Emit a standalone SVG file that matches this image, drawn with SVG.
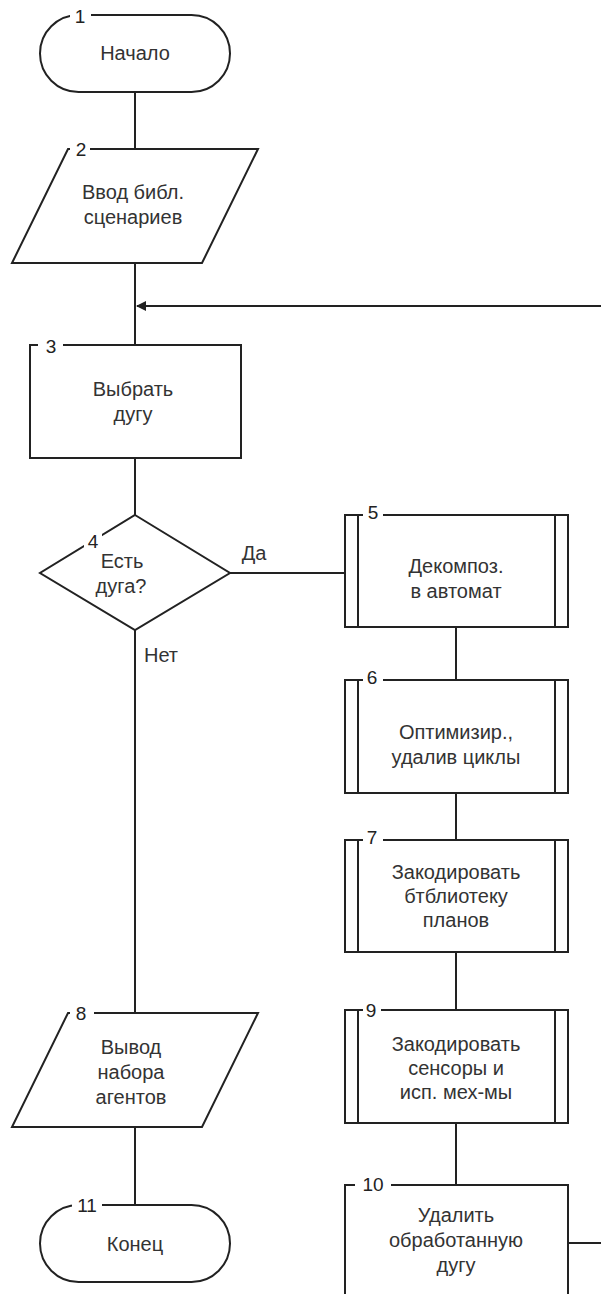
<svg xmlns="http://www.w3.org/2000/svg" width="601" height="1294" viewBox="0 0 601 1294">
  <style>
    .shape { fill: #fff; stroke: #222; stroke-width: 2; }
    .bar { fill: none; stroke: #222; stroke-width: 2; }
    .line { fill: none; stroke: #222; stroke-width: 2; }
    .txt { font-family: "Liberation Sans", Arial, sans-serif; font-size: 20px; fill: #333; text-anchor: middle; }
    .num { font-family: "Liberation Sans", Arial, sans-serif; font-size: 19px; fill: #222; text-anchor: middle; }
    .gap { fill: #fff; stroke: none; }
  </style>
  <defs>
    <marker id="arrow" viewBox="0 0 10 10" refX="9" refY="5" markerWidth="10" markerHeight="10" markerUnits="userSpaceOnUse" orient="auto">
      <path d="M0,0 L10,5 L0,10 z" fill="#222"/>
    </marker>
  </defs>

  <!-- connectors -->
  <g id="connectors">
    <line class="line" x1="135" y1="92" x2="135" y2="149"/>
    <line class="line" x1="135" y1="263" x2="135" y2="345"/>
    <line class="line" x1="601" y1="306" x2="137" y2="306" marker-end="url(#arrow)"/>
    <line class="line" x1="135" y1="458" x2="135" y2="515"/>
    <line class="line" x1="230" y1="573" x2="345" y2="573"/>
    <line class="line" x1="135" y1="630" x2="135" y2="1013"/>
    <line class="line" x1="456" y1="627" x2="456" y2="680"/>
    <line class="line" x1="456" y1="793" x2="456" y2="840"/>
    <line class="line" x1="456" y1="952" x2="456" y2="1010"/>
    <line class="line" x1="456" y1="1123" x2="456" y2="1185"/>
    <line class="line" x1="568" y1="1243" x2="601" y2="1243"/>
    <line class="line" x1="135" y1="1127" x2="135" y2="1205"/>
    <text class="txt" x="254" y="560">Да</text>
    <text class="txt" x="161" y="662">Нет</text>
  </g>

  <!-- 1: start -->
  <g id="n1">
    <rect class="shape" x="40" y="15" width="190" height="77" rx="38.5"/>
    <rect class="gap" x="70" y="10" width="21" height="12"/>
    <text class="num" x="80" y="23">1</text>
    <text class="txt" x="135" y="60">Начало</text>
  </g>

  <!-- 2: input -->
  <g id="n2">
    <polygon class="shape" points="68,149 258,149 202,263 12,263"/>
    <rect class="gap" x="70" y="143" width="20" height="12"/>
    <text class="num" x="81" y="156">2</text>
    <text class="txt" x="133" y="199">Ввод библ.</text>
    <text class="txt" x="133" y="224">сценариев</text>
  </g>

  <!-- 3: process -->
  <g id="n3">
    <rect class="shape" x="30" y="345" width="211" height="113"/>
    <rect class="gap" x="38" y="339" width="25" height="12"/>
    <text class="num" x="51" y="353">3</text>
    <text class="txt" x="133" y="396">Выбрать</text>
    <text class="txt" x="133" y="421">дугу</text>
  </g>

  <!-- 4: decision -->
  <g id="n4">
    <polygon class="shape" points="135,515 230,573 135,630 40,573"/>
    <rect class="gap" x="84" y="533" width="18" height="16"/>
    <text class="num" x="93" y="548">4</text>
    <text class="txt" x="122" y="568">Есть</text>
    <text class="txt" x="121" y="593">дуга?</text>
  </g>

  <!-- 5: predefined process -->
  <g id="n5">
    <rect class="shape" x="345" y="515" width="223" height="112"/>
    <line class="bar" x1="358" y1="515" x2="358" y2="627"/>
    <line class="bar" x1="555" y1="515" x2="555" y2="627"/>
    <rect class="gap" x="363" y="509" width="20" height="12"/>
    <text class="num" x="373" y="519">5</text>
    <text class="txt" x="456" y="573">Декомпоз.</text>
    <text class="txt" x="456" y="598">в автомат</text>
  </g>

  <!-- 6 -->
  <g id="n6">
    <rect class="shape" x="345" y="680" width="223" height="113"/>
    <line class="bar" x1="358" y1="680" x2="358" y2="793"/>
    <line class="bar" x1="555" y1="680" x2="555" y2="793"/>
    <rect class="gap" x="363" y="674" width="20" height="12"/>
    <text class="num" x="372" y="684">6</text>
    <text class="txt" x="456" y="739">Оптимизир.,</text>
    <text class="txt" x="456" y="764">удалив циклы</text>
  </g>

  <!-- 7 -->
  <g id="n7">
    <rect class="shape" x="345" y="840" width="223" height="112"/>
    <line class="bar" x1="358" y1="840" x2="358" y2="952"/>
    <line class="bar" x1="555" y1="840" x2="555" y2="952"/>
    <rect class="gap" x="363" y="834" width="20" height="12"/>
    <text class="num" x="372" y="844">7</text>
    <text class="txt" x="456" y="879">Закодировать</text>
    <text class="txt" x="456" y="903">бтблиотеку</text>
    <text class="txt" x="456" y="927">планов</text>
  </g>

  <!-- 9 -->
  <g id="n9">
    <rect class="shape" x="345" y="1010" width="223" height="113"/>
    <line class="bar" x1="358" y1="1010" x2="358" y2="1123"/>
    <line class="bar" x1="555" y1="1010" x2="555" y2="1123"/>
    <rect class="gap" x="363" y="1004" width="18" height="12"/>
    <text class="num" x="371" y="1017">9</text>
    <text class="txt" x="456" y="1051">Закодировать</text>
    <text class="txt" x="456" y="1075">сенсоры и</text>
    <text class="txt" x="456" y="1099">исп. мех-мы</text>
  </g>

  <!-- 10 -->
  <g id="n10">
    <rect class="shape" x="345" y="1185" width="223" height="130"/>
    <rect class="gap" x="355" y="1179" width="36" height="12"/>
    <text class="num" x="373" y="1191">10</text>
    <text class="txt" x="456" y="1222">Удалить</text>
    <text class="txt" x="456" y="1247">обработанную</text>
    <text class="txt" x="456" y="1272">дугу</text>
  </g>

  <!-- 8: output -->
  <g id="n8">
    <polygon class="shape" points="68,1013 258,1013 202,1127 12,1127"/>
    <rect class="gap" x="70" y="1007" width="24" height="12"/>
    <text class="num" x="81" y="1020">8</text>
    <text class="txt" x="131" y="1054">Вывод</text>
    <text class="txt" x="131" y="1079">набора</text>
    <text class="txt" x="131" y="1104">агентов</text>
  </g>

  <!-- 11: end -->
  <g id="n11">
    <rect class="shape" x="40" y="1205" width="190" height="77" rx="38.5"/>
    <rect class="gap" x="72" y="1199" width="30" height="12"/>
    <text class="num" x="87" y="1212">11</text>
    <text class="txt" x="135" y="1251">Конец</text>
  </g>
</svg>
